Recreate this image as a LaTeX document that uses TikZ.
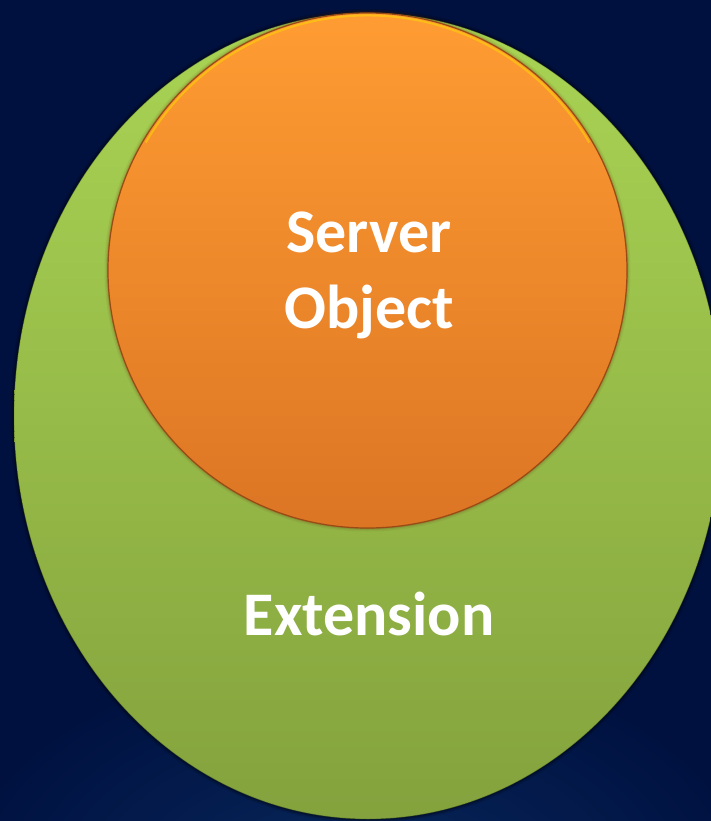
\documentclass[tikz,border=0pt]{standalone}
\usepackage{fontspec}
\setmainfont{Carlito}
\usetikzlibrary{shadings}
\definecolor{navytop}{HTML}{00113F}
\definecolor{navybot}{HTML}{0A2C62}
\definecolor{greentop}{HTML}{A9D454}
\definecolor{greenbot}{HTML}{84A23D}
\definecolor{orangetop}{HTML}{FF9C32}
\definecolor{orangebot}{HTML}{DC7524}
\definecolor{orangerim}{HTML}{9A4A14}
\definecolor{greenrim}{HTML}{3E5218}
\tikzset{
  label text/.style={text=white, font=\bfseries\fontsize{62bp}{76bp}\selectfont, align=center, inner sep=0pt},
}
\begin{document}
\begin{tikzpicture}[x=1bp, y=-1bp]
  % backdrop
  \useasboundingbox (0,0) rectangle (711,821);
  \fill[navytop] (0,0) rectangle (711,821);
  \shade[inner color=navybot, outer color=navytop, opacity=0.9] (355,900) ellipse (420 and 260);
  % soft shadow round the outer ellipse
  \foreach \w/\o in {8/0.10,5/0.15,3/0.2}
    \draw[black, line width=\w bp, opacity=\o] (368,416) ellipse (354 and 403);
  % outer ellipse
  \shade[top color=greentop, bottom color=greenbot]
    (368,416) ellipse (354 and 403);
  \draw[greenrim, line width=0.8bp, opacity=0.35] (368,416) ellipse (354 and 403);
  % soft shadow round the inner circle
  \foreach \w/\o in {7/0.08,4/0.12,2/0.2}
    \draw[orangerim!70!black, line width=\w bp, opacity=\o] (367.5,270.5) ellipse (259.5 and 257.5);
  % inner circle
  \shade[top color=orangetop, bottom color=orangebot, draw=orangerim, line width=1.2bp]
    (367.5,270.5) ellipse (259.5 and 257.5);
  % highlight along the top rim
  \draw[yellow!70!orange, line width=2bp, opacity=0.6]
    (367.5,270.5) ++(210:256) arc[start angle=210, end angle=330, x radius=256, y radius=254];
  \node[label text] (server) at (369,275) {Server\\Object};
  \node[label text, anchor=base] (ext) at (369,635) {Extension};
\end{tikzpicture}
\end{document}
